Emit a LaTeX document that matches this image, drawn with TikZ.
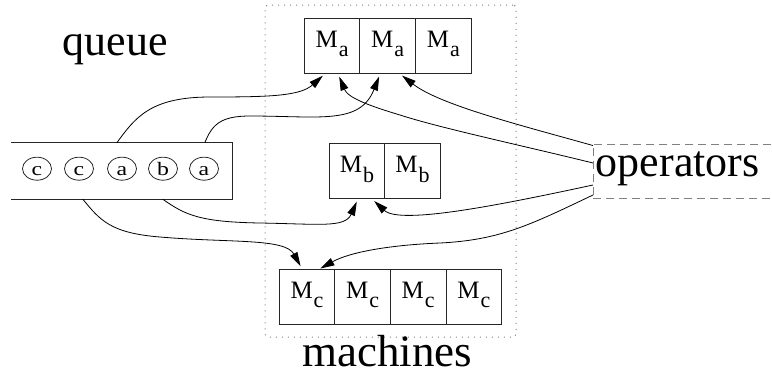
\documentclass[tikz,border=0pt]{standalone}
\usepackage{fontspec}
\setmainfont{Liberation Serif}
\usetikzlibrary{arrows.meta,shapes.geometric}
\newcommand\Msub[1]{M\kern1pt\raisebox{-9.5pt}{\fontsize{22}{22}\selectfont #1}}
\newcommand\tokletter[1]{\scalebox{1.25}[1]{#1}}
\begin{document}
\begin{tikzpicture}[x=1pt,y=-1pt,
  biglabel/.style={font=\fontsize{44}{50}\selectfont, inner sep=0pt},
  cell/.style={draw=black!85, line width=0.9pt, minimum width=55.6pt, minimum height=55pt,
    inner sep=0pt, font=\fontsize{25}{25}\selectfont, text height=17pt, text depth=14pt},
  tok/.style={draw=black!85, line width=0.8pt, ellipse, minimum width=29pt, minimum height=23pt,
    inner sep=0pt, font=\fontsize{19}{19}\selectfont, text height=13pt, text depth=0pt},
  conn/.style={draw, line width=0.8pt, -{Triangle[length=14pt,width=8pt]}, shorten >=3pt},
]
\useasboundingbox (0,0) rectangle (772,376);
\clip (0,0) rectangle (772,376);

% machines container
\node[draw=gray, dash pattern=on 1pt off 5pt, line width=1pt, rounded corners=3pt,
  minimum width=251pt, minimum height=332pt, inner sep=0pt] (mbox) at (390.5,171) {};

% machine cells
\node[cell] (ma1) at (332.1,45.8) {\Msub{a}};
\node[cell] (ma2) at (387.7,45.8) {\Msub{a}};
\node[cell] (ma3) at (443.3,45.8) {\Msub{a}};
\node[cell] (mb1) at (357,171) {\Msub{b}};
\node[cell] (mb2) at (412.6,171) {\Msub{b}};
\node[cell] (mc1) at (307,296.7) {\Msub{c}};
\node[cell] (mc2) at (362.6,296.7) {\Msub{c}};
\node[cell] (mc3) at (418.2,296.7) {\Msub{c}};
\node[cell] (mc4) at (473.8,296.7) {\Msub{c}};

% queue
\node[minimum width=221pt, minimum height=56pt, inner sep=0pt] (qbox) at (121.5,171) {};
\draw[draw=black!85, line width=0.9pt] (qbox.north west) -- (qbox.north east) -- (qbox.south east) -- (qbox.south west);
\node[tok] (t1) at (37,168.7) {\tokletter{c}};
\node[tok] (t2) at (79,168.7) {\tokletter{c}};
\node[tok] (t3) at (122,168.7) {\tokletter{a}};
\node[tok] (t4) at (163,168.7) {\tokletter{b}};
\node[tok] (t5) at (204,168.7) {\tokletter{a}};

% operators
\node[draw=gray, dash pattern=on 8pt off 5pt, line width=0.9pt, anchor=west, text width=200pt,
  align=left, inner xsep=2.5pt, inner ysep=0pt, minimum height=54pt, text height=22pt, text depth=12pt,
  font=\fontsize{44}{50}\selectfont] (ops) at (593,171) {operators};

% labels
\node[biglabel, anchor=base] (queue) at (115,55) {queue};
\node[biglabel, anchor=base, font=\fontsize{45}{50}\selectfont] (machines) at (387,366) {machines};

% connectors from queue
\draw[conn] ([xshift=106pt]qbox.north west) .. controls (135,118) and (150,97) .. (210,97)
  .. controls (270,97) and (300,96) .. ([xshift=-7pt]ma1.south);
\draw[conn] ([xshift=194pt]qbox.north west) .. controls (212,125) and (220,116) .. (250,116)
  .. controls (320,116) and (360,125) .. ([xshift=-7.5pt]ma2.south);
\draw[conn] ([xshift=152pt]qbox.south west) .. controls (185,215) and (200,222) .. (260,223)
  .. controls (320,224) and (345,228) .. ([xshift=1pt]mb1.south);
\draw[conn] ([xshift=72pt]qbox.south west) .. controls (100,220) and (110,233) .. (160,237)
  .. controls (230,243) and (285,238) .. ([xshift=-5pt]mc1.north);

% connectors from operators
\draw[conn] ([yshift=8pt]ops.west) .. controls (520,145) and (440,128) .. (400,115)
  .. controls (370,106) and (348,98) .. ([xshift=6pt]ma1.south);
\draw[conn] ([yshift=-2pt]ops.north west) .. controls (520,125) and (440,105) .. ([xshift=12pt]ma2.south);
\draw[conn] ([yshift=-14pt]ops.west) .. controls (500,205) and (400,225) .. ([xshift=15pt]mb1.south);
\draw[conn, shorten >=0.5pt] ([yshift=-24pt]ops.west) .. controls (530,225) and (500,240) .. (440,243)
  .. controls (390,245) and (350,252) .. ([xshift=13pt]mc1.north);
\end{tikzpicture}
\end{document}
